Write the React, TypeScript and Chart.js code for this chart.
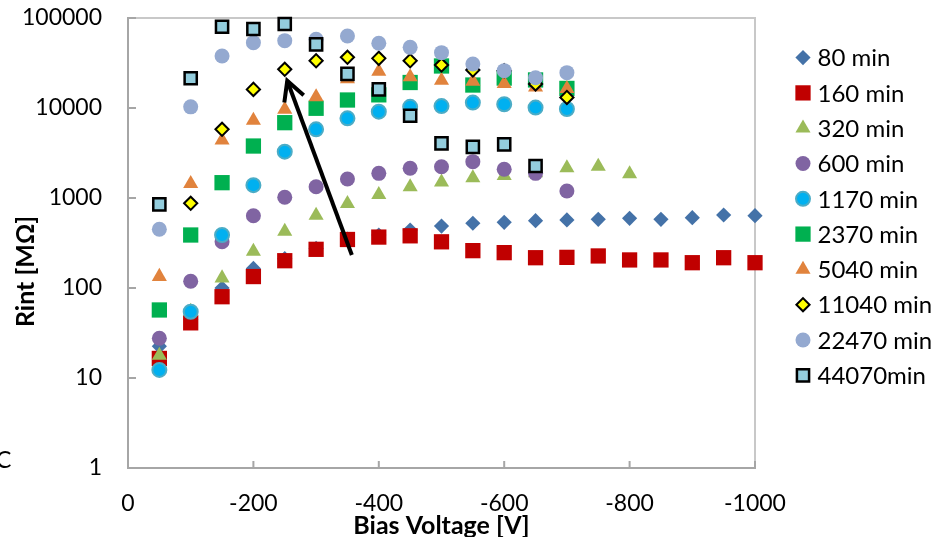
import React, { useEffect, useRef } from 'react';
import { Chart, registerables } from 'chart.js';
import { drawPoint } from 'chart.js/helpers';

Chart.register(...registerables);

// ---- data ----
const SERIES_LABELS = ['80 min', '160 min', '320 min', '600 min', '1170 min', '2370 min', '5040 min', '11040 min', '22470 min', '44070min'];

const V_80 = [-50, -100, -150, -200, -250, -300, -350, -400, -450, -500, -550, -600, -650, -700, -750, -800, -850, -900, -950, -1000];
const R_80 = [22.5, 45, 100, 165, 212, 275, 350, 388, 441, 488, 524, 537, 560, 570, 580, 595, 580, 604, 647, 636];

const V_160 = [-50, -100, -150, -200, -250, -300, -350, -400, -450, -500, -550, -600, -650, -700, -750, -800, -850, -900, -950, -1000];
const R_160 = [16.5, 41, 80, 134, 201, 269, 346, 368, 380, 326, 260, 247, 217, 219, 227, 205, 205, 191, 217, 191];

const V_320 = [-50, -100, -150, -200, -250, -300, -350, -400, -450, -500, -550, -600, -650, -700, -750, -800];
const R_320 = [17.8, 55, 129, 255, 426, 641, 865, 1089, 1325, 1500, 1670, 1770, 1900, 2154, 2244, 1849];

const V_600 = [-50, -100, -150, -200, -250, -300, -350, -400, -450, -500, -550, -600, -650, -700];
const R_600 = [27.6, 119, 327, 636, 1018, 1335, 1626, 1880, 2138, 2228, 2535, 2084, 1880, 1196];

const V_1170 = [-50, -100, -150, -200, -250, -300, -350, -400, -450, -500, -550, -600, -650, -700];
const R_1170 = [12.3, 54.5, 388, 1390, 3270, 5800, 7680, 9100, 10300, 10500, 11500, 11000, 10100, 9750];

const V_2370 = [-50, -100, -150, -200, -250, -300, -350, -400, -450, -500, -550, -600, -650, -700];
const R_2370 = [57, 388, 1480, 3780, 6870, 9930, 12270, 14000, 19200, 29300, 18000, 21500, 20500, 16500];

const V_5040 = [-50, -100, -150, -200, -250, -300, -350, -400, -450, -500, -550, -600, -650, -700];
const R_5040 = [134, 1443, 4400, 7280, 9640, 13250, 21000, 25500, 22100, 20300, 19800, 18600, 17000, 16400];

const V_11040 = [-100, -150, -200, -250, -300, -350, -400, -450, -500, -550, -600, -650, -700];
const R_11040 = [873, 5800, 16100, 26900, 33500, 36600, 35600, 33500, 30000, 26400, 26000, 18500, 13100];

const V_22470 = [-50, -100, -150, -200, -250, -300, -350, -400, -450, -500, -550, -600, -650, -700];
const R_22470 = [449, 10300, 37800, 53200, 56000, 58000, 63000, 52400, 47200, 41200, 30800, 26000, 21700, 24700];

const V_44070 = [-50, -100, -150, -200, -250, -300, -350, -400, -450, -500, -550, -600, -650];
const R_44070 = [850, 21400, 80000, 75500, 85800, 51000, 23900, 16100, 8200, 4050, 3700, 3950, 2270];

const X_TICKS = [0, -200, -400, -600, -800, -1000];
const Y_TICKS = [1, 10, 100, 1000, 10000, 100000];

// arrow annotation (data coordinates): tail -> tip
const ARROW_TAIL = { v: -357, r: 233 };
const ARROW_TIP = { v: -254, r: 20100 };

const X_TITLE = 'Bias Voltage [V]';
const Y_TITLE = 'Rint [MΩ]';
const STRAY_TEXT = 'C';

// ---- styles ----
const STYLES = [
  { style: 'rectRot', r: 7.6, fill: '#4472A8', border: '#4472A8', bw: 0 },
  { style: 'rect', r: 10.8, fill: '#C00000', border: '#C00000', bw: 0 },
  { style: 'triangle', r: 8.7, fill: '#9BBB59', border: '#9BBB59', bw: 0 },
  { style: 'circle', r: 7.5, fill: '#8064A2', border: '#8064A2', bw: 0 },
  { style: 'circle', r: 7, fill: '#00B0F0', border: '#4BACC6', bw: 2 },
  { style: 'rect', r: 10.8, fill: '#00B050', border: '#00B050', bw: 0 },
  { style: 'triangle', r: 8.7, fill: '#E1833D', border: '#E1833D', bw: 0 },
  { style: 'rectRot', r: 6.6, fill: '#FFFF00', border: '#000000', bw: 2 },
  { style: 'circle', r: 7.5, fill: '#94A9D0', border: '#94A9D0', bw: 0 },
  { style: 'rect', r: 8.6, fill: '#93CDDD', border: '#000000', bw: 2.5 },
];

const SERIES_V = [V_80, V_160, V_320, V_600, V_1170, V_2370, V_5040, V_11040, V_22470, V_44070];
const SERIES_R = [R_80, R_160, R_320, R_600, R_1170, R_2370, R_5040, R_11040, R_22470, R_44070];

const FONT = 'Lato';

const decorPlugin = {
  id: 'decor',
  beforeDatasetsDraw(chart: any) {
    const { ctx, chartArea: a, scales } = chart;
    ctx.save();
    ctx.strokeStyle = '#C8C8C8';
    ctx.lineWidth = 2;
    ctx.beginPath();
    ctx.moveTo(a.left, a.top);
    ctx.lineTo(a.right, a.top);
    ctx.lineTo(a.right, a.bottom);
    ctx.stroke();
    ctx.strokeStyle = '#A6A6A6';
    ctx.lineWidth = 2;
    ctx.beginPath();
    for (const v of X_TICKS) {
      const x = scales.x.getPixelForValue(v);
      ctx.moveTo(x, a.bottom);
      ctx.lineTo(x, a.bottom - 7);
    }
    for (const v of Y_TICKS) {
      const y = scales.y.getPixelForValue(v);
      ctx.moveTo(a.left, y);
      ctx.lineTo(a.left + 8, y);
    }
    ctx.stroke();
    ctx.restore();
  },
  afterDatasetsDraw(chart: any) {
    const { ctx, scales } = chart;
    const x1 = scales.x.getPixelForValue(ARROW_TAIL.v);
    const y1 = scales.y.getPixelForValue(ARROW_TAIL.r);
    const x2 = scales.x.getPixelForValue(ARROW_TIP.v);
    const y2 = scales.y.getPixelForValue(ARROW_TIP.r);
    const ang = Math.atan2(y1 - y2, x1 - x2);
    const wing = 22;
    const spread = (28 * Math.PI) / 180;
    ctx.save();
    ctx.strokeStyle = '#000';
    ctx.lineWidth = 4;
    ctx.lineCap = 'butt';
    ctx.beginPath();
    ctx.moveTo(x1, y1);
    ctx.lineTo(x2, y2);
    ctx.stroke();
    ctx.beginPath();
    ctx.moveTo(x2 + Math.cos(ang + spread) * wing, y2 + Math.sin(ang + spread) * wing);
    ctx.lineTo(x2, y2);
    ctx.lineTo(x2 + Math.cos(ang - spread) * wing, y2 + Math.sin(ang - spread) * wing);
    ctx.stroke();
    ctx.restore();
  },
  afterDraw(chart: any) {
    const { ctx, chartArea: a } = chart;
    ctx.save();
    // legend
    ctx.font = `24px ${FONT}`;
    ctx.textAlign = 'left';
    ctx.textBaseline = 'middle';
    chart.data.datasets.forEach((ds: any, i: number) => {
      const cy = a.top + 39.6 + i * 35.3;
      const cx = a.right + 48;
      ctx.fillStyle = ds.pointBackgroundColor;
      ctx.strokeStyle = ds.pointBorderColor;
      ctx.lineWidth = ds.pointBorderWidth;
      drawPoint(ctx, { pointStyle: ds.pointStyle, radius: ds.pointRadius, borderWidth: ds.pointBorderWidth, rotation: 0 } as any, cx, cy);
      ctx.fillStyle = '#000';
      ctx.fillText(ds.label, cx + 14.5, cy + 1);
    });
    // y title
    ctx.save();
    ctx.translate(26, 271.5);
    ctx.rotate(-Math.PI / 2);
    ctx.font = `bold 25px ${FONT}`;
    ctx.textAlign = 'center';
    ctx.textBaseline = 'middle';
    ctx.fillStyle = '#000';
    ctx.fillText(Y_TITLE, 0, 0);
    ctx.restore();
    // stray letter at left edge
    ctx.font = `23px ${FONT}`;
    ctx.textAlign = 'left';
    ctx.textBaseline = 'middle';
    ctx.fillStyle = '#000';
    ctx.fillText(STRAY_TEXT, -4, 461);
    ctx.restore();
  },
};

export default function App() {
  const canvasRef = useRef<HTMLCanvasElement | null>(null);

  useEffect(() => {
    if (!canvasRef.current) return;
    Chart.defaults.font.family = FONT;
    const datasets = SERIES_LABELS.map((label, i) => {
      const s = STYLES[i];
      return {
        label,
        data: SERIES_V[i].map((v, j) => ({ x: v, y: SERIES_R[i][j] })),
        pointStyle: s.style,
        pointRadius: s.r,
        pointHoverRadius: s.r,
        pointBackgroundColor: s.fill,
        pointBorderColor: s.border,
        pointBorderWidth: s.bw,
        backgroundColor: s.fill,
        borderColor: s.border,
        showLine: false,
        clip: false as any,
        order: SERIES_LABELS.length - i,
      };
    });

    const chart = new Chart(canvasRef.current, {
      type: 'scatter',
      data: { datasets: datasets as any },
      options: {
        animation: false,
        responsive: false,
        maintainAspectRatio: false,
        layout: { padding: { top: 18, right: 180, left: 0, bottom: 0 } },
        plugins: {
          legend: { display: false },
          tooltip: { enabled: false },
        },
        scales: {
          x: {
            type: 'linear',
            min: -1000,
            max: 0,
            reverse: true,
            afterBuildTicks: (scale: any) => {
              scale.ticks = X_TICKS.map((v) => ({ value: v }));
            },
            afterFit: (scale: any) => {
              scale.height = 69;
            },
            grid: { display: false, drawTicks: false },
            border: { display: true, color: '#A6A6A6', width: 2 },
            ticks: {
              color: '#000',
              font: { size: 23, family: FONT },
              padding: 22,
              maxRotation: 0,
              callback: (v: any) => String(Number(v) === 0 ? 0 : v),
            },
            title: {
              display: true,
              text: X_TITLE,
              color: '#000',
              font: { size: 25, weight: 'bold', family: FONT, lineHeight: 1 },
              padding: { top: 0, bottom: -1 },
            },
          },
          y: {
            type: 'logarithmic',
            min: 1,
            max: 100000,
            afterBuildTicks: (scale: any) => {
              scale.ticks = Y_TICKS.map((v) => ({ value: v }));
            },
            afterFit: (scale: any) => {
              scale.width = 128;
              scale.paddingTop = 0;
              scale.paddingBottom = 0;
            },
            grid: { display: false, drawTicks: false },
            border: { display: true, color: '#A6A6A6', width: 2 },
            ticks: {
              color: '#000',
              font: { size: 23, family: FONT },
              padding: 26,
              callback: (v: any) => String(v),
            },
            title: { display: false },
          },
        },
      },
      plugins: [decorPlugin],
    });
    return () => chart.destroy();
  }, []);

  return (
    <div style={{ position: 'absolute', left: 0, top: 0, width: 935, height: 537, background: '#fff' }}>
      <canvas ref={canvasRef} width={935} height={537} style={{ display: 'block' }} />
    </div>
  );
}
